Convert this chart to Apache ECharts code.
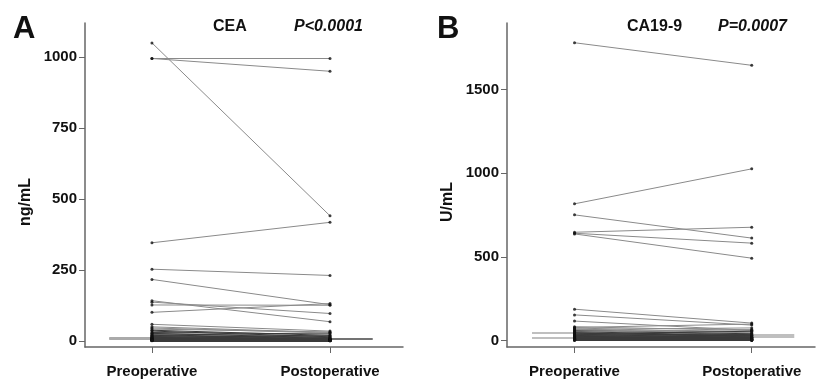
<!DOCTYPE html>
<html>
<head>
<meta charset="utf-8">
<script src="https://cdn.jsdelivr.net/npm/echarts@6/dist/echarts.min.js"></script>
<style>
  html, body { margin: 0; padding: 0; background: #fff; }
  #chart { width: 817px; height: 383px; }
</style>
</head>
<body>
<div id="chart"></div>
<script>
// groups on the x axis
var groups = ['Preoperative', 'Postoperative'];

// CEA (ng/mL), paired values per patient
var ceaPre  = [1050, 995, 995, 346, 253, 217, 142, 137, 127, 101,
               59, 50, 46, 42, 38, 35, 30, 27, 25, 22, 20, 18, 16, 15, 13, 12,
               11, 10, 9, 8, 7, 6, 5, 5, 4, 4, 3, 3, 2, 2, 2, 1.5, 1];
var ceaPost = [441, 995, 950, 418, 231, 128, 68, 97, 126, 132,
               35, 30, 28, 32, 20, 15, 25, 12, 18, 10, 8, 14, 6, 9, 5, 7,
               4, 6, 3, 5, 4, 3, 2, 3, 2, 4, 2, 1.5, 2, 1, 1.5, 1, 1];
var ceaMeanPre  = [13, 8];
var ceaMeanPost = [7];
var ceaTicks = [0, 250, 500, 750, 1000];

// CA19-9 (U/mL), paired values per patient
var caPre  = [1780, 817, 751, 647, 641, 637, 187, 153, 116,
              82, 78, 75, 70, 66, 62, 58, 55, 50, 47, 44, 40, 38, 35, 32, 30, 28,
              25, 23, 21, 19, 17, 15, 14, 12, 11, 10, 9, 8, 7, 6, 5, 4, 3, 2, 1];
var caPost = [1645, 1026, 612, 677, 582, 492, 104, 92, 60,
              60, 98, 45, 30, 75, 50, 40, 20, 65, 35, 25, 55, 15, 28, 38, 18, 22,
              12, 30, 10, 16, 8, 20, 6, 9, 14, 5, 7, 4, 10, 3, 6, 2, 3, 1, 2];
var caMeanPre  = [44, 14];
var caMeanPost = [34, 20];
var caTicks = [0, 500, 1000, 1500];

var FONT = 'Liberation Sans';
var chart = echarts.init(document.getElementById('chart'));

// 配对连线 (低值区颜色更深)
var pairLines = function(pre, post, lowLimit) {
  var out = [];
  for (var i = 0; i < pre.length; i++) {
    var low = Math.max(pre[i], post[i]) < lowLimit;
    out.push({
      coords: [[0, pre[i]], [1, post[i]]],
      lineStyle: { color: low ? '#3a3a3a' : '#8a8a8a' }
    });
  }
  return out;
};
var pairDots = function(pre, post) {
  var out = [];
  for (var i = 0; i < pre.length; i++) {
    out.push([0, pre[i]]);
    out.push([1, post[i]]);
  }
  return out;
};
var meanLines = function(pre, post) {
  var out = [];
  pre.forEach(function(v) { out.push({ coords: [[-0.24, v], [0, v]] }); });
  post.forEach(function(v) { out.push({ coords: [[1, v], [1.24, v]] }); });
  return out;
};

var makeXAxis = function(idx, min, max) {
  return {
    gridIndex: idx, type: 'value', min: min, max: max,
    splitLine: { show: false },
    axisLine: { onZero: false, lineStyle: { color: '#666', width: 1.5 } },
    axisTick: { customValues: [0, 1], length: 6, lineStyle: { color: '#666' } },
    axisLabel: {
      customValues: [0, 1], margin: 17,
      formatter: function(v) { return groups[Math.round(v)]; },
      fontFamily: FONT, fontWeight: 'bold', fontSize: 15, color: '#111'
    }
  };
};
var makeYAxis = function(idx, min, max, ticks, name) {
  return {
    gridIndex: idx, type: 'value', min: min, max: max,
    name: name, nameLocation: 'middle', nameGap: 51,
    nameTextStyle: { fontFamily: FONT, fontWeight: 'bold', fontSize: 16, color: '#111', padding: [0, 34, 0, 0] },
    splitLine: { show: false },
    axisLine: { show: true, onZero: false, lineStyle: { color: '#666', width: 1.5 } },
    axisTick: { show: true, customValues: ticks, length: 6, lineStyle: { color: '#666' } },
    axisLabel: {
      customValues: ticks, margin: 8,
      formatter: function(v) { return String(v); },
      fontFamily: FONT, fontWeight: 'bold', fontSize: 15, color: '#111'
    }
  };
};

var titleText = function(text, left, top, size, italic) {
  return {
    text: text, left: left, top: top, padding: 0,
    textStyle: { fontFamily: FONT, fontWeight: 'bold', fontStyle: italic ? 'italic' : 'normal', fontSize: size, color: '#111' }
  };
};

var option = {
  animation: false,
  title: [
    titleText('A', 13, 14, 31),
    titleText('CEA', 213, 19, 16),
    titleText('P<0.0001', 294, 19, 16, true),
    titleText('B', 437, 14, 31),
    titleText('CA19-9', 627, 19, 16),
    titleText('P=0.0007', 718, 19, 16, true)
  ],
  grid: [
    { left: 85, top: 23, width: 318, height: 324 },
    { left: 507, top: 23, width: 308, height: 324 }
  ],
  xAxis: [makeXAxis(0, -0.376, 1.41), makeXAxis(1, -0.381, 1.357)],
  yAxis: [makeYAxis(0, -21, 1120, ceaTicks, 'ng/mL'), makeYAxis(1, -39, 1898, caTicks, 'U/mL')],
  series: [
    { type: 'lines', coordinateSystem: 'cartesian2d', xAxisIndex: 0, yAxisIndex: 0,
      lineStyle: { color: '#aaa', width: 2, opacity: 1 }, data: meanLines(ceaMeanPre, []) },
    { type: 'lines', coordinateSystem: 'cartesian2d', xAxisIndex: 0, yAxisIndex: 0,
      lineStyle: { color: '#444', width: 1.5, opacity: 1 }, data: meanLines([], ceaMeanPost) },
    { type: 'lines', coordinateSystem: 'cartesian2d', xAxisIndex: 0, yAxisIndex: 0,
      lineStyle: { width: 1, opacity: 1 }, data: pairLines(ceaPre, ceaPost, 40) },
    { type: 'scatter', xAxisIndex: 0, yAxisIndex: 0, symbolSize: 3,
      itemStyle: { color: '#111' }, data: pairDots(ceaPre, ceaPost) },
    { type: 'lines', coordinateSystem: 'cartesian2d', xAxisIndex: 1, yAxisIndex: 1,
      lineStyle: { color: '#aaa', width: 1.5, opacity: 1 }, data: meanLines(caMeanPre, caMeanPost) },
    { type: 'lines', coordinateSystem: 'cartesian2d', xAxisIndex: 1, yAxisIndex: 1,
      lineStyle: { width: 1, opacity: 1 }, data: pairLines(caPre, caPost, 60) },
    { type: 'scatter', xAxisIndex: 1, yAxisIndex: 1, symbolSize: 3,
      itemStyle: { color: '#111' }, data: pairDots(caPre, caPost) }
  ]
};

chart.setOption(option);
</script>
</body>
</html>
